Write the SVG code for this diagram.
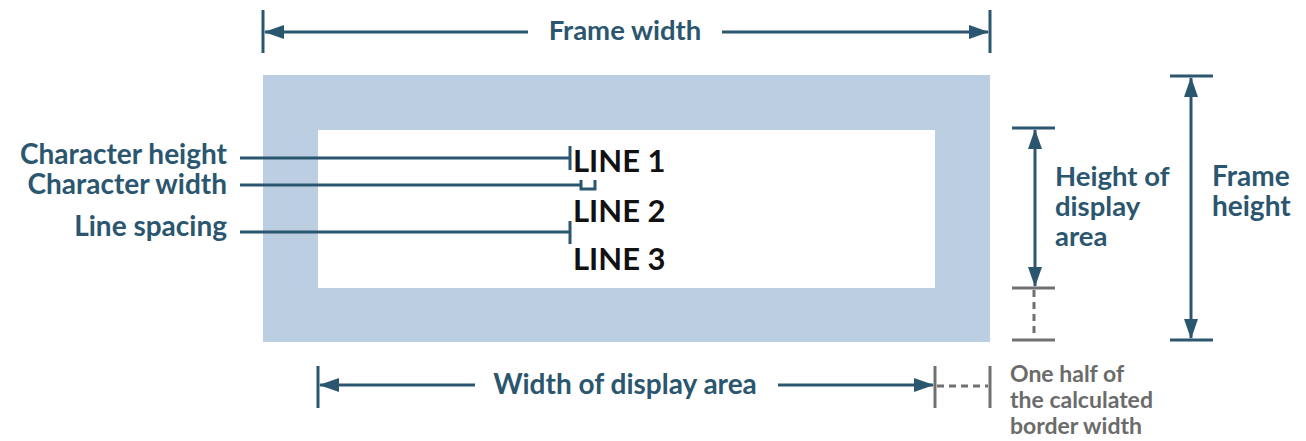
<svg xmlns="http://www.w3.org/2000/svg" width="1306" height="441" viewBox="0 0 1306 441">
<defs>
<style>
.dk{stroke:#2b566f;stroke-width:3;fill:none}
.gr{stroke:#707070;stroke-width:3;fill:none}
.dash{stroke:#707070;stroke-width:3;fill:none;stroke-dasharray:7,5}
.lbl{font-family:Lato,"Noto Sans",sans-serif;font-weight:700;fill:#2b566f}
.gl{font-family:Lato,"Noto Sans",sans-serif;font-weight:700;fill:#6b6b6b;font-size:23px}
.ln{font-family:Lato,"Noto Sans",sans-serif;font-weight:700;fill:#111;font-size:31px}
</style>
<marker id="ahb" viewBox="0 0 20 14" refX="19" refY="7" markerWidth="20" markerHeight="14" orient="auto-start-reverse" markerUnits="userSpaceOnUse">
<path d="M0,0 L20,7 L0,14 z" fill="#2b566f"/>
</marker>
</defs>
<rect width="1306" height="441" fill="#ffffff"/>
<g id="frame">
<rect x="263" y="75" width="727" height="267" fill="#bccfe2"/>
<rect x="318" y="130" width="617" height="158" fill="#ffffff"/>
</g>
<g id="lines">
<text class="ln" x="573" y="172">LINE 1</text>
<text class="ln" x="573" y="222">LINE 2</text>
<text class="ln" x="573" y="270">LINE 3</text>
</g>
<g id="labels-left">
<text class="lbl" x="227" y="164" font-size="28" text-anchor="end">Character height</text>
<text class="lbl" x="227" y="194" font-size="28" text-anchor="end">Character width</text>
<text class="lbl" x="227" y="236" font-size="28" text-anchor="end">Line spacing</text>
</g>
<g id="frame-width-label"><text class="lbl" x="625" y="40" font-size="27.5" text-anchor="middle">Frame width</text></g>
<g id="display-width-label"><text class="lbl" x="625" y="394" font-size="28" text-anchor="middle">Width of display area</text></g>
<g id="display-height-label"><text class="lbl" font-size="27.5"><tspan x="1055" y="186">Height of</tspan><tspan x="1055" y="216">display</tspan><tspan x="1055" y="246">area</tspan></text></g>
<g id="frame-height-label"><text class="lbl" font-size="28"><tspan x="1212" y="186">Frame</tspan><tspan x="1212" y="216">height</tspan></text></g>
<g id="border-label"><text class="gl"><tspan x="1010" y="382">One half of</tspan><tspan x="1010" y="408">the calculated</tspan><tspan x="1010" y="434">border width</tspan></text></g>
<g id="connectors">
<line class="dk" x1="263" y1="10" x2="263" y2="53"/>
<line class="dk" x1="990" y1="10" x2="990" y2="53"/>
<line class="dk" x1="265" y1="32" x2="528" y2="32" marker-start="url(#ahb)"/>
<line class="dk" x1="722" y1="32" x2="988" y2="32" marker-end="url(#ahb)"/>
<line class="dk" x1="240" y1="158" x2="570" y2="158"/>
<line class="dk" x1="570" y1="146" x2="570" y2="170"/>
<line class="dk" x1="240" y1="185" x2="581" y2="185"/>
<polyline class="dk" points="581,180 581,189 595,189 595,180" stroke-width="2"/>
<line class="dk" x1="240" y1="232" x2="570" y2="232"/>
<line class="dk" x1="570" y1="221" x2="570" y2="244"/>
<line class="dk" x1="1012" y1="128" x2="1055" y2="128"/>
<line class="dk" x1="1035" y1="130" x2="1035" y2="286" marker-start="url(#ahb)" marker-end="url(#ahb)"/>
<line class="gr" x1="1012" y1="288" x2="1055" y2="288"/>
<line class="dash" x1="1034" y1="290" x2="1034" y2="338"/>
<line class="gr" x1="1012" y1="340" x2="1055" y2="340"/>
<line class="dk" x1="1170" y1="76" x2="1213" y2="76"/>
<line class="dk" x1="1170" y1="340" x2="1213" y2="340"/>
<line class="dk" x1="1191" y1="78" x2="1191" y2="338" marker-start="url(#ahb)" marker-end="url(#ahb)"/>
<line class="dk" x1="318" y1="366" x2="318" y2="408"/>
<line class="dk" x1="320" y1="385" x2="475" y2="385" marker-start="url(#ahb)"/>
<line class="dk" x1="778" y1="385" x2="933" y2="385" marker-end="url(#ahb)"/>
<line class="gr" x1="935" y1="366" x2="935" y2="408"/>
<line class="dash" x1="937" y1="386" x2="988" y2="386"/>
<line class="gr" x1="990" y1="366" x2="990" y2="408"/>
</g>
</svg>
